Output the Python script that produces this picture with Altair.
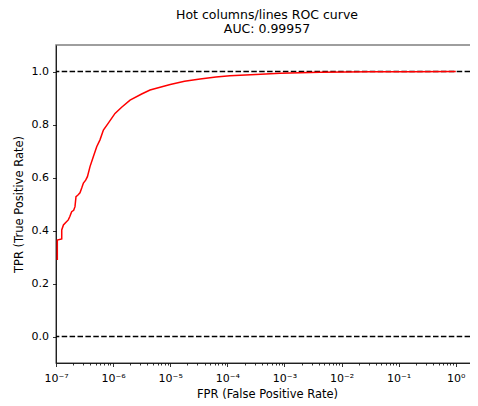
import altair as alt
import pandas as pd

# ROC curve points (FPR on log scale, TPR)
fpr = [1.054e-7, 1.054e-7, 1.26e-7, 1.26e-7, 1.35e-7, 1.48e-7, 1.64e-7, 1.74e-7,
       1.88e-7, 2.04e-7, 2.15e-7, 2.24e-7, 2.40e-7, 2.63e-7, 2.82e-7, 3.02e-7,
       3.31e-7, 3.55e-7, 3.94e-7, 4.50e-7, 5.16e-7, 5.89e-7, 6.76e-7, 8.24e-7,
       1.08e-6, 1.41e-6, 1.98e-6, 3.16e-6, 4.43e-6, 1.0e-5, 1.78e-5, 3.33e-5,
       6.31e-5, 1.11e-4, 3.16e-4, 8.38e-4, 4.21e-3, 3.16e-2, 0.158, 1.0]
tpr = [0.289, 0.364, 0.368, 0.402, 0.421, 0.430, 0.440, 0.452,
       0.471, 0.476, 0.490, 0.528, 0.533, 0.542, 0.560, 0.579,
       0.590, 0.603, 0.641, 0.678, 0.716, 0.742, 0.779, 0.805,
       0.842, 0.865, 0.892, 0.915, 0.930, 0.951, 0.963, 0.972,
       0.979, 0.984, 0.989, 0.993, 0.997, 0.999, 0.9995, 1.0]

ref_lines = [0.0, 1.0]
major_ticks = [1e-7, 1e-6, 1e-5, 1e-4, 1e-3, 1e-2, 1e-1, 1e0]
minor_ticks = [m * 10.0 ** e for e in range(-7, 1) for m in range(2, 10)]
y_ticks = [0.0, 0.2, 0.4, 0.6, 0.8, 1.0]
x_domain = [1e-7, 2.45]
y_domain = [-0.1, 1.1]

FONT = "DejaVu Sans"

curve_df = pd.DataFrame({"fpr": fpr, "tpr": tpr, "i": range(len(fpr))})
ref_df = pd.DataFrame({"y": ref_lines})
minor_df = pd.DataFrame({"v": minor_ticks})

xscale = alt.Scale(type="log", domain=x_domain, nice=False)
yscale = alt.Scale(domain=y_domain, nice=False, zero=False)

label_expr = ("'10' + (datum.value < 1 ? '⁻' : '') + "
              "['⁰','¹','²','³','⁴','⁵','⁶','⁷'][abs(round(log(datum.value)/LN10))]")

curve = alt.Chart(curve_df).mark_line(color="#ff0000", strokeWidth=1.5, clip=True).encode(
    x=alt.X("fpr:Q", scale=xscale,
            axis=alt.Axis(values=major_ticks, labelExpr=label_expr, title="FPR (False Positive Rate)",
                          tickSize=3.5, labelPadding=6, titlePadding=5, grid=False,
                          labelFlush=False, labelOverlap=False)),
    y=alt.Y("tpr:Q", scale=yscale,
            axis=alt.Axis(values=y_ticks, format=".1f", title="TPR (True Positive Rate)",
                          tickSize=3.5, labelPadding=4, titlePadding=7, grid=False)),
    order="i:Q",
)

refs = alt.Chart(ref_df).mark_rule(color="black", strokeWidth=1.5, strokeDash=[5.5, 2.4]).encode(
    y=alt.Y("y:Q", scale=yscale)
)

minor = alt.Chart(minor_df).mark_point(opacity=0).encode(
    x=alt.X("v:Q", scale=xscale,
            axis=alt.Axis(values=minor_ticks, labels=False, tickSize=2, domain=False,
                          title=None, grid=False, orient="bottom")),
)

chart = alt.layer(refs, curve, minor).resolve_axis(x="independent").properties(
    width=422,
    height=318,
    title=alt.TitleParams(
        text=["Hot columns/lines ROC curve", "AUC: 0.99957"],
        fontSize=12.5, fontWeight="normal", font=FONT, color="black",
        anchor="middle", offset=10, lineHeight=13.5,
    ),
    autosize=alt.AutoSizeParams(type="none"),
    padding={"left": 48, "top": 37, "right": -8, "bottom": 43},
).configure_axis(
    labelFont=FONT, titleFont=FONT, labelFontSize=11, titleFontSize=11.5,
    labelColor="black", titleColor="black", tickColor="black", domainColor="black",
    titleFontWeight="normal", tickWidth=0.8, domainWidth=0.8,
).configure_view(
    stroke="#7f7f7f", strokeWidth=1.5,
)

chart.save("out.html", embed_options={"renderer": "svg", "actions": False})
